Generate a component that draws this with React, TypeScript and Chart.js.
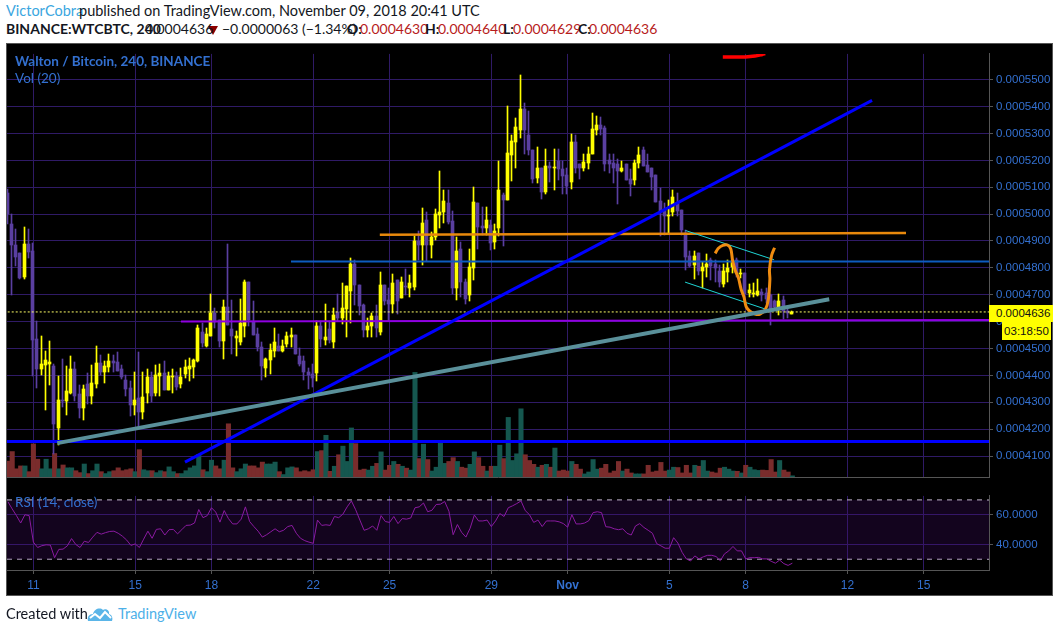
import React, { useEffect, useRef } from "react";
import { Chart, registerables } from "chart.js";

Chart.register(...registerables);

// prices are in units of 0.0000001 BTC; first candle is 6 bars before Oct 11 00:00, 4h per bar
const firstIndex = -6;
const highs = [5095,5002,4944,4857,4952,4945,4892,4602,4546,4489,4528,4442,4397,4461,4436,4472,4450,4365,4365,4407,4439,4511,4475,4454,4479,4475,4486,4439,4400,4379,4411,4486,4411,4425,4411,4439,4443,4454,4411,4422,4411,4429,4457,4464,4462,4589,4596,4575,4703,4650,4607,4682,4888,4682,4564,4685,4753,4749,4675,4575,4525,4464,4518,4575,4553,4532,4561,4575,4550,4500,4472,4429,4443,4603,4603,4667,
4602,4649,4703,4742,4733,4837,4828,4738,4667,4614,4632,4660,4785,4738,4724,4778,4756,4767,4795,4774,4920,4938,5023,5009,4934,5020,5159,5088,5091,5013,4913,4895,4760,4870,5102,5041,5027,5027,4977,4963,5198,5077,5401,5294,5358,5519,5415,5383,5237,5248,5173,5241,5194,5241,5241,5198,5170,5298,5294,5187,5223,5251,5376,5365,5362,5326,5223,5223,5205,5198,5187,5166,5202,5251,5248,5223,5173,5145,
5099,5042,5051,5088,5077,5017,4941,4863,4863,4857,4821,4853,4835,4828,4810,4813,4831,4831,4838,4796,4781,4739,4742,4760,4721,4725,4703,4682,4703,4696,4657,4640];
const opens = [5077,4963,4885,4854,4767,4888,4863,4536,4422,4439,4443,4436,4204,4308,4304,4333,4422,4329,4279,4368,4322,4368,4447,4411,4432,4454,4450,4422,4382,4354,4290,4315,4265,4333,4393,4333,4397,4407,4347,4393,4397,4368,4404,4422,4432,4454,4561,4511,4546,4632,4607,4528,4653,4571,4539,4525,4585,4746,4600,4553,4507,4429,4457,4489,4511,4489,4518,4543,4550,4472,4454,4414,4404,4407,4582,4532,
4571,4525,4635,4614,4647,4713,4813,4738,4660,4567,4585,4621,4560,4738,4681,4667,4756,4689,4731,4724,4728,4899,4885,4977,4885,4913,4995,5006,5041,4974,4724,4870,4749,4699,4799,5041,4956,4949,4959,4895,4949,5070,5052,5219,5269,5312,5390,5294,5237,5134,5173,5084,5180,5170,5198,5166,5145,5120,5269,5187,5170,5191,5223,5312,5330,5319,5202,5191,5187,5159,5187,5130,5127,5191,5237,5184,5173,5145,
5049,5017,4992,5009,5042,5017,4928,4846,4810,4856,4789,4803,4828,4813,4789,4739,4785,4803,4828,4778,4781,4707,4703,4700,4710,4707,4700,4675,4653,4682,4639,4630];
const closes = [4999,4885,4842,4764,4888,4860,4532,4422,4443,4457,4450,4219,4308,4304,4340,4425,4322,4279,4350,4322,4372,4447,4411,4436,4454,4447,4418,4393,4350,4290,4308,4265,4318,4393,4322,4400,4407,4347,4397,4397,4357,4393,4432,4436,4457,4575,4521,4553,4632,4600,4528,4653,4589,4546,4546,4593,4746,4607,4550,4504,4436,4461,4493,4525,4489,4511,4546,4550,4479,4443,4411,4400,4390,4582,4536,4543,
4532,4626,4614,4649,4731,4813,4735,4657,4567,4585,4621,4575,4738,4678,4667,4742,4678,4746,4728,4742,4899,4885,4966,4885,4913,5002,5009,5048,4970,4724,4863,4749,4685,4803,5045,4952,4949,4977,4892,4938,5088,5052,5227,5273,5323,5390,5312,5237,5130,5173,5084,5180,5170,5177,5166,5141,5105,5269,5170,5170,5194,5223,5316,5330,5316,5187,5187,5173,5159,5173,5127,5113,5191,5219,5180,5155,5137,5045,
5013,4992,4995,5063,5013,4942,4842,4806,4846,4789,4803,4813,4806,4799,4746,4789,4799,4824,4781,4781,4703,4717,4707,4714,4700,4685,4643,4653,4675,4639,4632,4636];
const lows = [4963,4699,4806,4757,4760,4838,4397,4354,4400,4272,4365,4109,4141,4283,4251,4329,4304,4243,4233,4293,4293,4354,4400,4372,4411,4414,4418,4386,4325,4247,4251,4201,4236,4297,4300,4325,4325,4347,4347,4336,4347,4354,4390,4379,4390,4450,4507,4507,4546,4578,4507,4461,4589,4479,4472,4514,4543,4585,4550,4489,4382,4393,4404,4468,4489,4486,4507,4507,4479,4436,4382,4350,4357,4379,4507,4514,
4520,4501,4602,4590,4543,4594,4661,4626,4543,4543,4543,4543,4552,4661,4602,4632,4628,4689,4699,4692,4717,4828,4810,4824,4835,4902,4949,4966,4963,4703,4681,4692,4667,4678,4756,4870,4924,4922,4867,4870,4920,4881,5052,5123,5170,5283,5223,5219,5116,5116,5055,5073,5120,5088,5127,5073,5073,5095,5152,5130,5162,5166,5223,5294,5294,5162,5152,5116,5038,5155,5127,5066,5109,5170,5180,5155,5091,5045,
4917,4923,4929,4994,4994,4923,4792,4802,4760,4774,4724,4767,4753,4749,4728,4728,4749,4781,4767,4764,4703,4691,4692,4696,4675,4671,4589,4650,4625,4610,4614,4629];
const volumes = [50,80,26,35,35,17,104,56,26,56,26,74,26,38,29,29,20,14,41,11,20,41,17,11,17,20,29,20,23,26,17,86,23,20,20,14,20,17,32,17,11,11,20,29,35,71,23,17,53,35,26,53,167,29,17,26,41,35,35,29,47,41,41,47,17,8,29,32,29,17,20,17,23,80,83,131,
18,34,70,97,49,154,105,22,25,22,34,43,79,22,37,49,40,34,28,22,328,58,103,55,19,31,115,43,49,61,49,31,28,40,79,61,34,19,34,34,100,58,187,52,73,214,70,52,40,31,37,40,31,91,19,22,19,49,40,25,10,16,55,25,28,40,13,19,49,19,25,13,10,10,10,37,
16,19,46,19,22,31,30,13,37,13,37,34,52,19,16,13,28,31,25,19,18,13,37,31,23,21,22,21,55,16,52,22,16,4];
const rsiValues = [68.7,63.9,59.4,54.4,60,59.4,41.5,37.9,39.1,39.7,39.5,31,36.6,36.8,39,43.9,39.9,37.9,42.1,41.3,44.9,48.1,46.9,47.9,48.7,48.9,47.5,45.5,42.9,39.3,40.3,37.9,43.5,48.9,44.1,50.1,50.5,46.3,49.9,50.1,47.1,49.9,52.8,53,54.4,63.5,58,59.4,64.7,61.8,55,62.8,57.4,53.8,53.8,57,65.3,55.4,52,48.9,44.9,46.5,48.5,50.5,48.5,49.5,52,52.8,47.5,44.1,42.5,41.5,40.7,56.4,52.8,53.2,52.8,58.8,58,60.4,65.3,69.3,63.4,56.4,49.5,50.5,52.4,49.5,59.4,55.4,54.8,58.8,54,57.4,57,57.8,64.7,65.3,
67.9,62,63,66.9,67.1,68.9,62.4,46.5,53.4,48.1,44.9,50.9,59.8,55.8,55.8,56.4,52,55.8,60.8,58.8,64.7,66,67.5,69.3,62.8,60,54.8,56.4,52,55.8,55.8,55.8,55.2,54,51.6,60,53.8,53.8,54.4,56,61.4,62,61.4,51.9,51.6,50.5,49.9,50.5,47.5,46.3,52.4,54,51.4,49.5,47.5,40.5,39,37.4,37.4,44.5,40.9,34.6,30.2,28.8,32.2,30.2,31.6,32.6,32.6,31.8,29,33.6,35.6,38.6,35.6,35.6,30.2,31,31,31.2,30.2,30.2,28.6,27.3,29.4,27,25.8,27.3];

const xTickBars = [0, 24, 42, 66, 84, 108, 126, 150, 168, 192, 210];
const xTickLabels = ["11", "15", "18", "22", "25", "29", "Nov", "5", "8", "12", "15"];
const priceTicks = [4100,4200,4300,4400,4500,4600,4700,4800,4900,5000,5100,5200,5300,5400,5500];
const rsiTicks = [40, 60];
const lastPrice = 4636;

// drawings, as [bar, price]
const diagonalBlue = [[35.75, 4077], [197.8, 5423]];
const supportBlue = [[-7, 4154], [226, 4154]];
const tealTrend = [[5.64, 4148], [187.7, 4683]];
const purpleLevel = [[34.8, 4600], [226, 4606]];
const midBlueLevel = [[60.75, 4824], [226, 4824]];
const orangeLevel = [[81.7, 4923], [205.8, 4930]];
const channelTop = [[153.8, 4939], [174.7, 4830]];
const channelBottom = [[153.7, 4747], [173.7, 4641]];
const orangeCurve = [[160.8,4854],[161.5,4872],[162.6,4884],[163.7,4885],[164.5,4869],[164.9,4828],[165.5,4792],[166.3,4762],[166.9,4721],[167.6,4691],[168.1,4656],[168.9,4640],[170.2,4628],[171.4,4628],[172.6,4644],[173.3,4679],[173.7,4757],[173.6,4792],[174.1,4846],[174.8,4875]];
const redMark = [[162.6,5585],[167.9,5585],[170.2,5588],[171.9,5594],[172.6,5597]];

const GRID = "#2f1a66";
const AXIS = "#555555";
const BLUE = "#3370d0";
const UP = "#ffff00";
const DOWN = "#5a3fa0";
const VOL_UP = "#15574f";
const VOL_DOWN = "#7a2c2c";
const AXIS_FONT = "'Liberation Sans', Arial, sans-serif";
const HEAD_FONT = "Lato, 'Noto Sans', sans-serif";

const X_MIN = -6.226;
const X_MAX = 225.38;

[highs, opens, closes, lows, volumes, rsiValues].forEach((a, k) => {
  if (a.length !== 186) throw new Error("array " + k + " has " + a.length);
});

const barIndex = (k: number) => firstIndex + k;
const toPts = (pts: number[][]) => pts.map(([x, y]) => ({ x, y }));

const lineSet = (data: number[][], color: string, width: number, order: number, extra: any = {}) => ({
  type: "line",
  data: toPts(data),
  borderColor: color,
  borderWidth: width,
  pointRadius: 0,
  yAxisID: "y",
  xAxisID: "x",
  order,
  ...extra,
});

const snapBars = {
  id: "snapBars",
  afterDatasetsUpdate(chart: any) {
    chart.data.datasets.forEach((ds: any, i: number) => {
      if (!ds.snap) return;
      chart.getDatasetMeta(i).data.forEach((el: any) => {
        el.x = Math.floor(el.x - 0.8) + 0.5;
        const top = Math.round(Math.min(el.y, el.base));
        let bottom = Math.round(Math.max(el.y, el.base));
        if (bottom <= top) bottom = top + 1;
        el.y = top;
        el.base = bottom;
      });
    });
  },
};

function PriceChart() {
  const ref = useRef<HTMLCanvasElement>(null);
  useEffect(() => {
    const isUp = (k: number) => closes[k] >= opens[k];
    const chart = new Chart(ref.current!, {
      type: "bar",
      plugins: [snapBars],
      data: {
        datasets: [
          {
            type: "bar",
            data: volumes.map((v, k) => ({ x: barIndex(k), y: v })),
            backgroundColor: volumes.map((_, k) => (isUp(k) ? VOL_UP : VOL_DOWN)),
            barThickness: 4.4,
            yAxisID: "yVol",
            xAxisID: "x",
            grouped: false,
            order: 30,
          },
          {
            type: "bar",
            snap: true,
            data: highs.map((h, k) => ({ x: barIndex(k), y: [lows[k], h] })),
            backgroundColor: highs.map((_, k) => (isUp(k) ? UP : DOWN)),
            barThickness: 1,
            minBarLength: 1,
            yAxisID: "y",
            xAxisID: "x",
            grouped: false,
            order: 29,
          },
          {
            type: "bar",
            snap: true,
            data: opens.map((o, k) => ({ x: barIndex(k), y: [o, closes[k]] })),
            backgroundColor: opens.map((_, k) => (isUp(k) ? UP : DOWN)),
            barThickness: 3,
            minBarLength: 1,
            yAxisID: "y",
            xAxisID: "x",
            grouped: false,
            order: 28,
          },
          lineSet([[-7, lastPrice], [226, lastPrice]], "#ffff66", 1, 27, { borderDash: [2, 2] }),
          lineSet(purpleLevel, "#8f00e0", 2, 26),
          lineSet(midBlueLevel, "#0d5cc0", 2, 25),
          lineSet(orangeLevel, "#e8890c", 2.5, 24),
          lineSet(channelTop, "#1fd4d4", 1, 23),
          lineSet(channelBottom, "#1fd4d4", 1, 22),
          lineSet(orangeCurve, "#f08c10", 3, 21, { tension: 0.3 }),
          lineSet(diagonalBlue, "#0000ff", 3, 20),
          lineSet(supportBlue, "#0000ff", 3, 19),
          lineSet(tealTrend, "#5a909a", 4, 18),
          lineSet(redMark, "#ff0000", 3.5, 17, { tension: 0.3 }),
        ] as any,
      },
      options: {
        responsive: false,
        animation: false,
        devicePixelRatio: 1,
        layout: { padding: { left: 7, right: 0, top: 0, bottom: 0 }, autoPadding: false },
        plugins: { legend: { display: false }, tooltip: { enabled: false } },
        scales: {
          x: {
            type: "linear",
            min: X_MIN,
            max: X_MAX,
            offset: false,
            afterBuildTicks: (a: any) => {
              a.ticks = xTickBars.map((v) => ({ value: v }));
            },
            afterFit: (a: any) => {
              a.height = 1;
            },
            ticks: { display: false, autoSkip: false },
            grid: { color: GRID, offset: false, drawTicks: false, lineWidth: 1 },
            border: { color: AXIS },
          },
          y: {
            type: "linear",
            position: "right",
            min: 4021.5,
            max: 5596.1,
            afterBuildTicks: (a: any) => {
              a.ticks = priceTicks.map((v) => ({ value: v }));
            },
            afterFit: (a: any) => {
              a.width = 64;
            },
            ticks: {
              color: BLUE,
              padding: 3,
              font: { family: AXIS_FONT, size: 11.5 },
              callback: (v: any) => (Number(v) / 1e7).toFixed(7),
            },
            grid: { color: GRID, tickColor: AXIS, tickLength: 4 },
            border: { color: AXIS },
          },
          yVol: { type: "linear", display: false, min: 0, max: 1326 },
        },
      } as any,
    });
    return () => chart.destroy();
  }, []);
  return <canvas ref={ref} width={1053} height={443} style={{ position: "absolute", left: 0, top: 44, display: "block" }} />;
}

function RsiChart() {
  const ref = useRef<HTMLCanvasElement>(null);
  useEffect(() => {
    const dash = { borderDash: [5, 5] };
    const chart = new Chart(ref.current!, {
      type: "line",
      data: {
        datasets: [
          {
            data: rsiValues.map((v, k) => ({ x: barIndex(k), y: v })),
            borderColor: "#8a1aa0",
            borderWidth: 1,
            pointRadius: 0,
            order: 1,
          },
          {
            data: [{ x: X_MIN, y: 70 }, { x: X_MAX, y: 70 }],
            borderColor: "#c4b8d0",
            borderWidth: 1,
            pointRadius: 0,
            fill: "+1",
            backgroundColor: "rgba(70,15,110,0.27)",
            order: 2,
            ...dash,
          },
          {
            data: [{ x: X_MIN, y: 30 }, { x: X_MAX, y: 30 }],
            borderColor: "#c4b8d0",
            borderWidth: 1,
            pointRadius: 0,
            order: 3,
            ...dash,
          },
        ],
      },
      options: {
        responsive: false,
        animation: false,
        devicePixelRatio: 1,
        layout: { padding: { left: 7, right: 0, top: 0, bottom: 0 }, autoPadding: false },
        plugins: { legend: { display: false }, tooltip: { enabled: false }, filler: { propagate: false } },
        scales: {
          x: {
            type: "linear",
            min: X_MIN,
            max: X_MAX,
            afterBuildTicks: (a: any) => {
              a.ticks = xTickBars.map((v) => ({ value: v }));
            },
            afterFit: (a: any) => {
              a.height = 26;
            },
            ticks: {
              color: BLUE,
              autoSkip: false,
              maxRotation: 0,
              padding: 4,
              font: (c: any) => ({
                family: AXIS_FONT,
                size: 12,
                weight: c.tick && c.tick.value === 126 ? "bold" : "normal",
              }),
              callback: (v: any) => xTickLabels[xTickBars.indexOf(Number(v))],
            },
            grid: { color: GRID, tickColor: AXIS, tickLength: 4 },
            border: { color: AXIS },
          },
          y: {
            type: "linear",
            position: "right",
            min: 22.7,
            max: 72.7,
            afterBuildTicks: (a: any) => {
              a.ticks = rsiTicks.map((v) => ({ value: v }));
            },
            afterFit: (a: any) => {
              a.width = 64;
            },
            ticks: {
              color: BLUE,
              padding: 3,
              font: { family: AXIS_FONT, size: 11.5 },
              callback: (v: any) => Number(v).toFixed(4),
            },
            grid: { color: GRID, tickColor: AXIS, tickLength: 4 },
            border: { color: AXIS },
          },
        },
      } as any,
    });
    return () => chart.destroy();
  }, []);
  return <canvas ref={ref} width={1053} height={110} style={{ position: "absolute", left: 0, top: 486, display: "block" }} />;
}

const T = ({ x, y, c, b, s, children, f }: any) => (
  <span
    style={{
      position: "absolute",
      left: x,
      top: y,
      color: c || "#131722",
      fontWeight: b ? 700 : 400,
      fontSize: s || 14,
      lineHeight: "16px",
      fontFamily: f || HEAD_FONT,
      whiteSpace: "pre",
      zIndex: 3,
    }}
  >
    {children}
  </span>
);

const RED = "#b71c1c";

export default function App() {
  return (
    <div style={{ position: "absolute", left: 0, top: 0, width: 1059, height: 632, background: "#fff", overflow: "hidden" }}>
      <T x={6} y={3} c="#3aa6e0" s={14.5}>VictorCobra</T>
      <T x={79} y={3} s={14.5}>published on TradingView.com, November 09, 2018 20:41 UTC</T>
      <T x={6} y={21} b s={14}>BINANCE:WTCBTC, 240</T>
      <T x={145} y={21} s={14}>0.0004636</T>
      <span style={{ position: "absolute", left: 208, top: 26, width: 0, height: 0, borderLeft: "5px solid transparent", borderRight: "5px solid transparent", borderTop: "9px solid #8b0000" }} />
      <T x={222} y={21} s={14}>−0.0000063 (−1.34%)</T>
      <T x={347} y={21} b s={14}>O:</T>
      <T x={360} y={21} c={RED} s={14}>0.0004630</T>
      <T x={425} y={21} b s={14}>H:</T>
      <T x={438} y={21} c={RED} s={14}>0.0004640</T>
      <T x={503} y={21} b s={14}>L:</T>
      <T x={513} y={21} c={RED} s={14}>0.0004629</T>
      <T x={578} y={21} b s={14}>C:</T>
      <T x={589} y={21} c={RED} s={14}>0.0004636</T>

      <div style={{ position: "absolute", left: 6, top: 43, width: 1047, height: 553, boxSizing: "border-box", border: "1px solid #555", background: "#000" }} />
      <PriceChart />
      <RsiChart />

      <T x={15} y={53} c={BLUE} s={13.5}><b>Walton / Bitcoin, 240, BINANCE</b></T>
      <T x={15} y={70} c={BLUE} s={13.5}>Vol (20)</T>
      <T x={15} y={494} c={BLUE} s={13.5}>RSI (14, close)</T>

      <div style={{ position: "absolute", left: 989, top: 305, width: 64, height: 17, background: "#ffff00", color: "#111", font: `11.5px ${AXIS_FONT}`, lineHeight: "17px", paddingLeft: 7, boxSizing: "border-box", zIndex: 3 }}>0.0004636</div>
      <div style={{ position: "absolute", left: 1002, top: 322, width: 49, height: 18, background: "#ffff00", color: "#111", font: `11.5px ${AXIS_FONT}`, lineHeight: "18px", textAlign: "center", zIndex: 3 }}>03:18:50</div>

      <T x={6} y={606} s={14.5}>Created with</T>
      <svg width="26" height="16" viewBox="0 0 26 16" style={{ position: "absolute", left: 87, top: 606 }}>
        <path d="M1 15 C0 11 2 8 6 8 C7 3 13 1 16 4 C18 2 23 4 22 8 C25 9 26 12 25 15 Z" fill="#5ab5e8" />
        <path d="M3 12 L8 8 L13 12 L18 6 L24 12" stroke="#fff" strokeWidth="2" fill="none" />
      </svg>
      <T x={118} y={606} c="#4db0e8" s={14.5}>TradingView</T>
    </div>
  );
}
